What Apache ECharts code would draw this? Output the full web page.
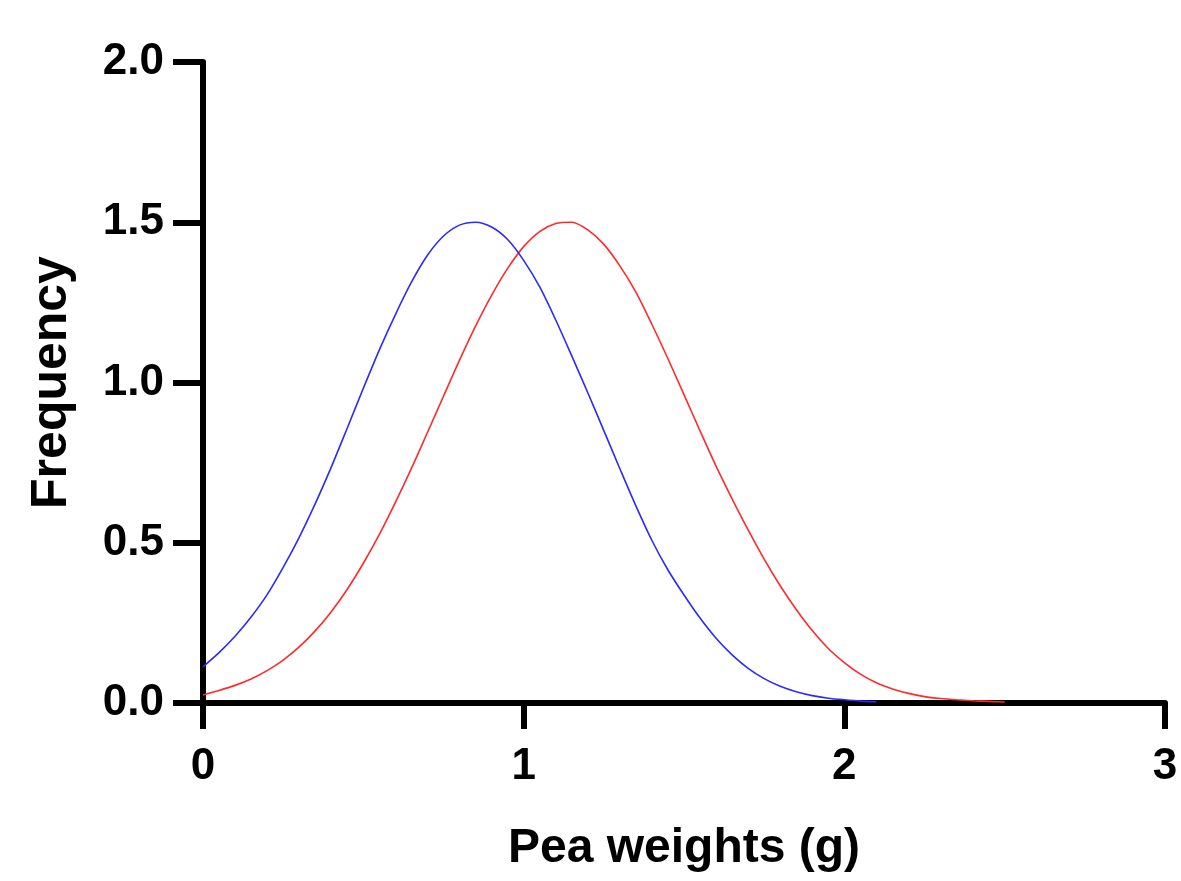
<!DOCTYPE html>
<html>
<head>
<meta charset="utf-8">
<script src="https://cdn.jsdelivr.net/npm/echarts@6/dist/echarts.min.js"></script>
<style>
html,body{margin:0;padding:0;background:#fff;}
#chart{width:1181px;height:881px;}
</style>
</head>
<body>
<div id="chart"></div>
<script>
// Data (x in g, y = frequency)
var xValues = [0.00, 0.05, 0.10, 0.15, 0.20, 0.25, 0.30, 0.35, 0.40, 0.45,
               0.50, 0.55, 0.60, 0.65, 0.70, 0.75, 0.80, 0.85, 0.90, 0.95,
               1.00, 1.05, 1.10, 1.15, 1.20, 1.25, 1.30, 1.35, 1.40, 1.45,
               1.50, 1.55, 1.60, 1.65, 1.70, 1.75, 1.80, 1.85, 1.90, 1.95,
               2.00, 2.05, 2.10, 2.15, 2.20, 2.25, 2.30, 2.35, 2.40, 2.45, 2.50];
var blueValues = [0.113, 0.157, 0.208, 0.268, 0.338, 0.423, 0.517, 0.622, 0.736, 0.858,
                  0.982, 1.102, 1.212, 1.313, 1.397, 1.457, 1.491, 1.500, 1.485, 1.446,
                  1.381, 1.298, 1.195, 1.083, 0.968, 0.850, 0.731, 0.615, 0.507, 0.415,
                  0.337, 0.265, 0.202, 0.150, 0.108, 0.076, 0.052, 0.035, 0.023, 0.015,
                  0.010, 0.006, 0.004];
var redValues = [0.025, 0.039, 0.055, 0.075, 0.101, 0.134, 0.175, 0.225, 0.285, 0.355,
                 0.436, 0.526, 0.626, 0.732, 0.844, 0.957, 1.070, 1.176, 1.272, 1.356,
                 1.424, 1.471, 1.496, 1.500, 1.476, 1.431, 1.364, 1.282, 1.181, 1.074,
                 0.962, 0.849, 0.739, 0.637, 0.540, 0.449, 0.366, 0.292, 0.226, 0.170,
                 0.126, 0.090, 0.063, 0.044, 0.030, 0.020, 0.014, 0.010, 0.007, 0.005, 0.003];
var xTicks = [0, 1, 2, 3];
var yTicks = [0, 0.5, 1.0, 1.5, 2.0];
var xTitle = 'Pea weights (g)';
var yTitle = 'Frequency';

function pairs(xs, ys) { return ys.map(function (y, i) { return [xs[i], y]; }); }

var FONT = '"Liberation Sans", Arial, Helvetica, sans-serif';
var chart = echarts.init(document.getElementById('chart'), null, {renderer: 'canvas'});
chart.setOption({
  animation: false,
  backgroundColor: '#ffffff',
  grid: {left: 203, top: 62, width: 962, height: 641, containLabel: false},
  xAxis: {
    type: 'value', min: xTicks[0], max: xTicks[xTicks.length - 1], interval: 1,
    name: xTitle, nameLocation: 'middle', nameGap: 122,
    nameTextStyle: {color: '#000', fontSize: 48, fontWeight: 'bold', fontFamily: FONT},
    axisLine: {show: true, onZero: false, lineStyle: {color: '#000', width: 6}},
    axisTick: {show: true, length: 26, lineStyle: {color: '#000', width: 6}},
    axisLabel: {color: '#000', fontSize: 44, fontWeight: 'bold', fontFamily: FONT, margin: 42},
    splitLine: {show: false}
  },
  yAxis: {
    type: 'value', min: yTicks[0], max: yTicks[yTicks.length - 1], interval: 0.5,
    name: yTitle, nameLocation: 'middle', nameGap: 126,
    nameTextStyle: {color: '#000', fontSize: 50, fontWeight: 'bold', fontFamily: FONT},
    axisLine: {show: true, onZero: false, lineStyle: {color: '#000', width: 6}},
    axisTick: {show: true, length: 30, lineStyle: {color: '#000', width: 6}},
    axisLabel: {color: '#000', fontSize: 44, fontWeight: 'bold', fontFamily: FONT, margin: 39,
      formatter: function (v) { return v.toFixed(1); }},
    splitLine: {show: false}
  },
  series: [
    {type: 'line', data: pairs(xValues, blueValues), smooth: 0.3, showSymbol: false, symbol: 'none',
      lineStyle: {color: '#2a2aff', width: 1.6}, z: 3},
    {type: 'line', data: pairs(xValues, redValues), smooth: 0.3, showSymbol: false, symbol: 'none',
      lineStyle: {color: '#ff2a2a', width: 1.6}, z: 2}
  ]
});
</script>
</body>
</html>
